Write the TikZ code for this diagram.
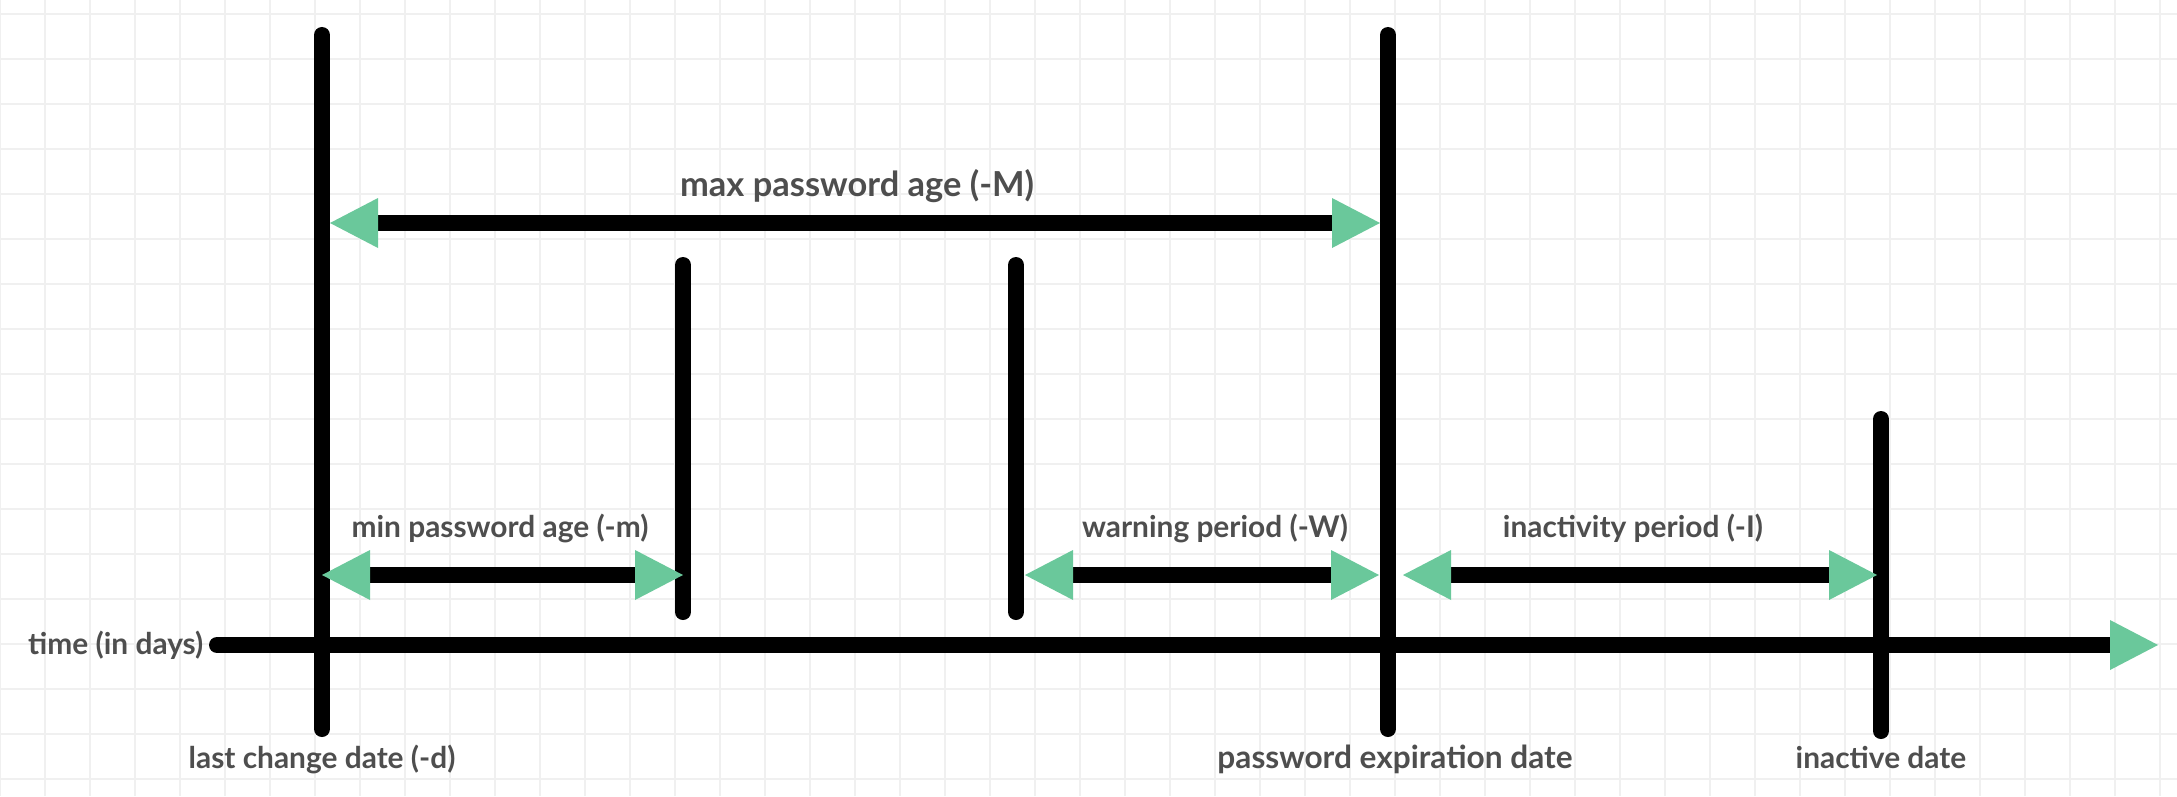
\documentclass[tikz,border=0pt]{standalone}
\usepackage{fontspec}
\setmainfont{Lato}
\usepackage{tikz}
\usetikzlibrary{
    arrows.meta,
    positioning,
    calc
}
\definecolor{tipC}{RGB}{106,200,155}
\definecolor{txtC}{RGB}{78,78,78}
\definecolor{gridC}{RGB}{240,240,240}
\tikzset{
  gtip/.tip      = {Triangle[length=4.8mm, width=5mm, line width=0pt, color=tipC]},
  bar/.style     = {line width=0.16cm, line cap=round, black},
  span/.style    = {line width=0.16cm, black, {gtip}-{gtip}},
  lbl/.style     = {inner sep=0pt, text=txtC, anchor=base,
                    font=\fontsize{8.5}{10}\selectfont\bfseries},
  biglbl/.style  = {lbl, font=\fontsize{9.8}{12}\selectfont\bfseries},
  gridline/.style= {gridC, line width=0.3pt}
}

\begin{document}
\begin{tikzpicture}

  %% -- canvas + grid ---------------------------------------------
  \fill[white] (0,0) rectangle (21.77,7.96);
  \useasboundingbox (0,0) rectangle (21.77,7.96);
  \begin{scope}[shift={(0,0.17)}]
    \draw[gridline, step=0.45cm] (0,-0.17) grid (21.77,7.79);
  \end{scope}

  %% -- key dates -------------------------------------------------
  \coordinate (lastTop) at ( 3.22,7.61);
  \coordinate (lastBot) at ( 3.22,0.67);
  \coordinate (expTop)  at (13.88,7.61);
  \coordinate (expBot)  at (13.88,0.67);
  \coordinate (minTop)  at ( 6.83,5.31);
  \coordinate (minBot)  at ( 6.83,1.84);
  \coordinate (warnTop) at (10.16,5.31);
  \coordinate (warnBot) at (10.16,1.84);
  \coordinate (inaTop)  at (18.81,3.77);
  \coordinate (inaBot)  at (18.81,0.65);

  %% -- rows ------------------------------------------------------
  \coordinate (tStart)  at ( 2.17,1.51);
  \coordinate (tEnd)    at (21.58,1.51);
  \coordinate (maxRow)  at (0,5.73);
  \coordinate (lowRow)  at (0,2.21);
  \coordinate (dateRow) at (0,0.28);

  %% -- vertical bars ---------------------------------------------
  \draw[bar] (lastTop) -- (lastBot);
  \draw[bar] (expTop)  -- (expBot);
  \draw[bar] (minTop)  -- (minBot);
  \draw[bar] (warnTop) -- (warnBot);
  \draw[bar] (inaTop)  -- (inaBot);

  %% -- time axis -------------------------------------------------
  \draw[line width=0.16cm, line cap=round, black, -{gtip}] (tStart) -- (tEnd);
  \node[lbl, anchor=base east] (timeLbl) at ([xshift=-0.13cm]tStart |- 0,1.42)
    {time (in days)};

  %% -- spans -----------------------------------------------------
  % max age: between the two long bars
  \draw[span, shorten <=0.08cm, shorten >=0.08cm]
    (lastTop |- maxRow) -- (expTop |- maxRow);
  % min age
  \draw[span] (lastTop |- lowRow) -- (minTop |- lowRow);
  % warning
  \draw[span, shorten <=0.09cm, shorten >=0.09cm]
    (warnTop |- lowRow) -- (expTop |- lowRow);
  % inactivity
  \draw[span, shorten <=0.15cm, shorten >=0.04cm]
    (expTop |- lowRow) -- (inaTop |- lowRow);

  %% -- span labels -----------------------------------------------
  \node[biglbl] (maxLbl)  at ( 8.57,5.99) {max password age (-M)};
  \node[lbl]    (minLbl)  at ( 5.00,2.59) {min password age (-m)};
  \node[lbl]    (warnLbl) at (12.15,2.59) {warning period (-W)};
  \node[lbl]    (inaLbl)  at (16.33,2.59) {inactivity period (-I)};

  %% -- date labels -----------------------------------------------
  \node[lbl] (lastLbl) at (lastBot |- dateRow) {last change date (-d)};
  \node[lbl, font=\fontsize{9}{11}\selectfont\bfseries] (expLbl)
    at ([xshift=0.07cm]expBot |- dateRow) {password expiration date};
  \node[lbl] (inaDLbl) at (inaBot |- dateRow) {inactive date};

\end{tikzpicture}
\end{document}
